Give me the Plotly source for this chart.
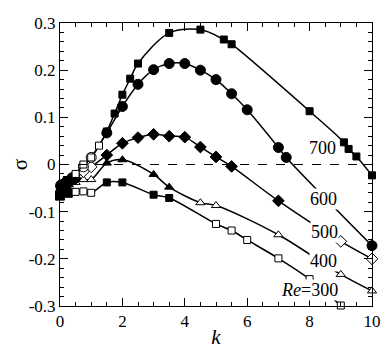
import plotly.graph_objects as go

# Re = 300
k300 = [0.0, 0.25, 0.5, 0.75, 1.0, 1.5, 2.0, 3.0, 3.5, 5.0, 5.5, 6.0, 7.0, 8.0, 9.0]
s300 = [-0.066, -0.06, -0.058, -0.057, -0.06, -0.038, -0.038, -0.064, -0.071,
        -0.126, -0.14, -0.16, -0.199, -0.243, -0.299]
f300 = [1, 1, 0, 0, 0, 1, 1, 1, 1, 0, 0, 0, 0, 0, 0]

# Re = 400
k400 = [0.05, 0.25, 0.5, 0.75, 1.0, 1.5, 2.0, 3.0, 3.5, 4.5, 5.0, 7.0, 9.0, 10.0]
s400 = [-0.05, -0.042, -0.038, -0.032, -0.032, 0.003, 0.01, -0.021, -0.048,
        -0.081, -0.087, -0.149, -0.233, -0.268]
f400 = [1, 1, 0, 0, 0, 1, 1, 1, 1, 0, 0, 0, 0, 0]

# Re = 500
k500 = [0.1, 0.3, 0.5, 0.75, 1.0, 1.5, 2.0, 2.5, 3.0, 3.5, 4.0, 4.5, 5.0, 5.5, 7.0, 9.0, 10.0]
s500 = [-0.045, -0.036, -0.03, -0.015, -0.005, 0.02, 0.045, 0.057, 0.064, 0.06,
        0.058, 0.037, 0.016, -0.004, -0.077, -0.163, -0.2]
f500 = [1, 1, 1, 0, 0, 1, 1, 1, 1, 1, 1, 1, 1, 1, 1, 0, 0]

# Re = 600
k600 = [0.05, 0.2, 0.4, 0.75, 1.0, 1.5, 2.0, 2.5, 3.0, 3.5, 4.0, 4.5, 5.0, 5.5,
        6.0, 7.0, 7.25, 10.0]
s600 = [-0.045, -0.04, -0.03, -0.005, 0.015, 0.067, 0.123, 0.17, 0.201, 0.214,
        0.214, 0.2, 0.18, 0.15, 0.116, 0.036, 0.015, -0.172]
f600 = [1, 1, 1, 0, 0, 1, 1, 1, 1, 1, 1, 1, 1, 1, 1, 1, 1, 1]

# Re = 700
k700 = [0.1, 0.25, 0.5, 0.75, 1.0, 1.25, 1.5, 1.75, 2.0, 2.25, 2.5, 3.5, 4.5,
        5.25, 5.5, 8.0, 9.1, 9.25, 9.5, 10.0]
s700 = [-0.045, -0.035, -0.02, 0.0, 0.015, 0.04, 0.07, 0.108, 0.148, 0.182,
        0.214, 0.279, 0.286, 0.265, 0.255, 0.113, 0.047, 0.033, 0.017, -0.023]
f700 = [1, 1, 0, 0, 0, 0, 1, 1, 1, 1, 1, 1, 1, 1, 1, 1, 1, 1, 1, 1]

ytick_vals = [-0.3, -0.2, -0.1, 0, 0.1, 0.2, 0.3]
ytick_text = ['-0.3', '-0.2', '-0.1', '0', '0.1', '0.2', '0.3']
xtick_vals = [0, 2, 4, 6, 8, 10]

labels = ['700', '600', '500', '400', '<i>Re</i>=300']
label_k = [8.41, 8.44, 8.47, 8.44, 8.0]
label_s = [0.036, -0.074, -0.143, -0.204, -0.266]

series = [
    (k300, s300, f300, 'square', 7),
    (k400, s400, f400, 'triangle-up', 8),
    (k500, s500, f500, 'diamond', 9),
    (k600, s600, f600, 'circle', 10),
    (k700, s700, f700, 'square', 7),
]

fig = go.Figure()
for ks, ss, filled, sym, sz in series:
    colors = ['black' if f else 'white' for f in filled]
    sizes = [sz + 2 if (f and k < 0.5) else sz for f, k in zip(filled, ks)]
    fig.add_trace(go.Scatter(
        x=ks, y=ss, mode='lines+markers',
        line=dict(color='black', width=1.5, shape='spline', smoothing=0.9),
        marker=dict(symbol=sym, size=sizes, color=colors, opacity=1,
                    line=dict(color='black', width=1)),
        cliponaxis=False,
        showlegend=False, hoverinfo='skip'))

fig.add_hline(y=0, line=dict(color='black', width=1, dash='dash'))

for txt, kx, sy in zip(labels, label_k, label_s):
    fig.add_annotation(x=kx, y=sy, text=txt, showarrow=False, bgcolor='white',
                       borderpad=0, font=dict(family='Liberation Serif', size=18, color='black'))

# page body has an 8px margin, so the figure is sized to fit the window
fig.update_layout(
    width=384, height=341,
    margin=dict(l=52, r=20, t=15, b=43, autoexpand=False),
    plot_bgcolor='white', paper_bgcolor='white',
    font=dict(family='Liberation Serif', size=17, color='black'),
)
fig.update_xaxes(
    range=[0, 10], tickvals=xtick_vals, showgrid=False, zeroline=False,
    automargin=False,
    showline=True, linecolor='black', linewidth=1, mirror='allticks',
    ticks='inside', ticklen=8, tickcolor='black',
    minor=dict(dtick=0.5, ticks='inside', ticklen=4, tickcolor='black'),
    title=dict(text='<i>k</i>', font=dict(size=21), standoff=4),
)
fig.update_yaxes(
    range=[-0.3, 0.3], tickvals=ytick_vals, ticktext=ytick_text,
    showgrid=False, zeroline=False, automargin=False,
    showline=True, linecolor='black', linewidth=1, mirror='allticks',
    ticks='inside', ticklen=8, tickcolor='black',
    minor=dict(dtick=0.02, tick0=0, ticks='inside', ticklen=4, tickcolor='black'),
    title=dict(text='σ', font=dict(size=21), standoff=8),
)

fig.write_html("out.html")
